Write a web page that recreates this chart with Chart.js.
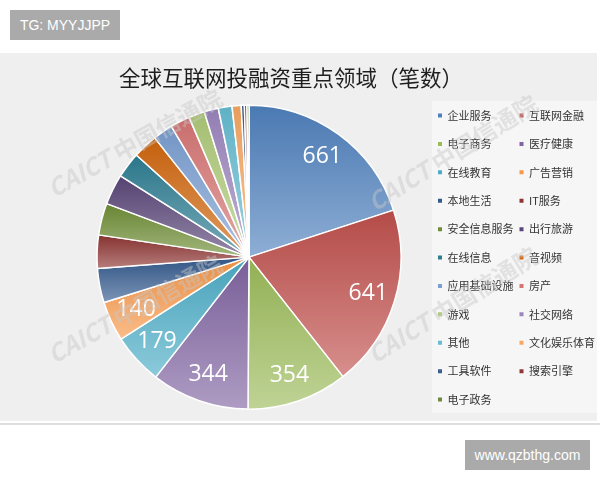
<!DOCTYPE html>
<html>
<head>
<meta charset="utf-8">
<script src="https://cdn.jsdelivr.net/npm/chart.js@4/dist/chart.umd.min.js"></script>
<style>
html,body{margin:0;padding:0;width:600px;height:480px;overflow:hidden;background:#ffffff;}
#panel{position:absolute;left:0;top:53px;width:597px;height:368px;background:#efefef;}
#rule{position:absolute;left:0;top:423px;width:600px;height:2px;background:#dedede;}
#legbox{position:absolute;left:432px;top:101px;width:165px;height:312px;background:#f6f6f6;}
#tg{position:absolute;left:10px;top:10px;width:110px;height:30px;background:#aaaaaa;color:#ffffff;font:14px "Liberation Sans",Arial,sans-serif;line-height:30px;text-align:center;}
#www{position:absolute;left:465px;top:440px;width:125px;height:30px;background:#aaaaaa;color:#ffffff;font:14px "Liberation Sans",Arial,sans-serif;line-height:30px;text-align:center;}
#chart{position:absolute;left:0;top:0;}
.wm{position:absolute;white-space:nowrap;font:bold 24px "Noto Sans CJK SC","Liberation Sans",sans-serif;line-height:24px;color:rgba(200,200,200,0.45);transform-origin:0 100%;pointer-events:none;}
</style>
</head>
<body>
<div id="panel"></div>
<div id="rule"></div>
<div id="legbox"></div>
<div id="tg">TG: MYYJJPP</div>
<canvas id="chart" width="605" height="480"></canvas>
<div class="wm" style="left:55px;top:176px;transform:rotate(-29deg)"><i>CAICT</i> 中国信通院</div>
<div class="wm" style="left:376px;top:190px;transform:rotate(-32deg)"><i>CAICT</i> 中国信通院</div>
<div class="wm" style="left:55px;top:342px;transform:rotate(-29deg)"><i>CAICT</i> 中国信通院</div>
<div class="wm" style="left:376px;top:342px;transform:rotate(-32deg)"><i>CAICT</i> 中国信通院</div>
<div id="www">www.qzbthg.com</div>
<script>
// ---- data ----
const chartTitle = '全球互联网投融资重点领域（笔数）';
const categories = ['企业服务','互联网金融','电子商务','医疗健康','在线教育','广告营销','本地生活','IT服务','安全信息服务','出行旅游','在线信息','音视频','应用基础设施','房产','游戏','社交网络','其他','文化娱乐体育','工具软件','搜索引擎','电子政务'];
const dealCounts = [661,641,354,344,179,140,120,117,112,107,91,87,70,69,56,50,48,32,11,9,7];
const sliceColors = ['#4F81BD','#C0504D','#9BBB59','#8064A2','#4BACC6','#F79646','#345A8E','#8E3533','#6F8E36','#5A4678','#2E7E93','#D0660D','#7A9FD2','#D67574','#AECA78','#9C86BE','#66BCD2','#F7A762','#3A5F8B','#8F3836','#71893F'];
const labelMinValue = 140;

// ---- helpers ----
function hexToRgb(h){const n=parseInt(h.slice(1),16);return [(n>>16)&255,(n>>8)&255,n&255];}
function mix(hex, target, t){
  const a=hexToRgb(hex), b=hexToRgb(target);
  const c=a.map((v,k)=>Math.round(v+(b[k]-v)*t));
  return 'rgb('+c.join(',')+')';
}

// per-slice vertical gradient (dark top -> light bottom), using the arc elements' geometry
const sliceGradient = {
  id: 'sliceGradient',
  beforeDatasetsDraw(chart){
    const meta = chart.getDatasetMeta(0);
    const c = chart.ctx;
    meta.data.forEach((arc, i) => {
      const p = arc.getProps(['x','y','startAngle','endAngle','outerRadius'], true);
      const ys = [p.y, p.y + p.outerRadius*Math.sin(p.startAngle), p.y + p.outerRadius*Math.sin(p.endAngle)];
      [-Math.PI/2, Math.PI/2, 3*Math.PI/2].forEach(a => { if (a > p.startAngle && a < p.endAngle) ys.push(p.y + p.outerRadius*Math.sin(a)); });
      const top = Math.min(...ys), bot = Math.max(...ys) + 0.5;
      const g = c.createLinearGradient(0, top, 0, bot);
      const base = sliceColors[i];
      g.addColorStop(0, mix(base, '#000000', 0.06));
      g.addColorStop(1, mix(base, '#ffffff', 0.36));
      arc.options.backgroundColor = g;
    });
  }
};

// value labels on the large slices
const valueLabels = {
  id: 'valueLabels',
  afterDatasetsDraw(chart){
    const meta = chart.getDatasetMeta(0);
    const c = chart.ctx;
    c.save();
    c.fillStyle = '#ffffff';
    c.font = '23px "Open Sans", "Noto Sans", sans-serif';
    c.textAlign = 'center';
    c.textBaseline = 'middle';
    meta.data.forEach((arc, i) => {
      const v = chart.data.datasets[0].data[i];
      if (v < labelMinValue) return;
      const p = arc.getProps(['x','y','startAngle','endAngle','outerRadius'], true);
      const mid = (p.startAngle + p.endAngle) / 2;
      const r = p.outerRadius * 0.82;
      c.fillText(String(v), p.x + Math.cos(mid)*r, p.y + Math.sin(mid)*r);
    });
    c.restore();
  }
};

// title centred over the plot + legend block
const titlePlacement = {
  id: 'titlePlacement',
  afterLayout(chart){
    const t = chart.titleBlock;
    if (t) { t.left = 0; t.right = 582; t.width = 582; }
  }
};

new Chart(document.getElementById('chart'), {
  type: 'pie',
  data: {
    labels: categories,
    datasets: [{
      data: dealCounts,
      backgroundColor: sliceColors,
      borderColor: '#ffffff',
      borderWidth: 1.5,
      radius: 152
    }]
  },
  options: {
    responsive: false,
    animation: false,
    devicePixelRatio: 1,
    layout: { padding: { left: 66, right: 0, top: 0, bottom: 54.5 } },
    plugins: {
      title: {
        display: true,
        text: chartTitle,
        color: '#1e1e1e',
        font: { family: '"Noto Sans CJK SC", sans-serif', size: 21.5, weight: 'normal', lineHeight: 1 },
        padding: { top: 67.25, bottom: 0 }
      },
      legend: {
        position: 'right',
        align: 'start',
        fullSize: false,
        title: { display: true, text: ' ', font: { size: 15.3, lineHeight: 1 }, padding: 0 },
        labels: {
          boxWidth: 4,
          boxHeight: 4,
          padding: 6,
          color: '#333333',
          font: { family: '"Noto Sans CJK SC", sans-serif', size: 11, lineHeight: '22.4px' },
          generateLabels(chart){
            const order = [];
            for (let i = 0; i < categories.length; i += 2) order.push(i);
            for (let i = 1; i < categories.length; i += 2) order.push(i);
            return order.map(i => ({
              text: [categories[i]],
              fillStyle: sliceColors[i],
              strokeStyle: sliceColors[i],
              lineWidth: 0,
              fontColor: '#333333',
              hidden: false,
              index: i
            }));
          }
        }
      },
      tooltip: { enabled: false }
    }
  },
  plugins: [sliceGradient, valueLabels, titlePlacement]
});
</script>
</body>
</html>
